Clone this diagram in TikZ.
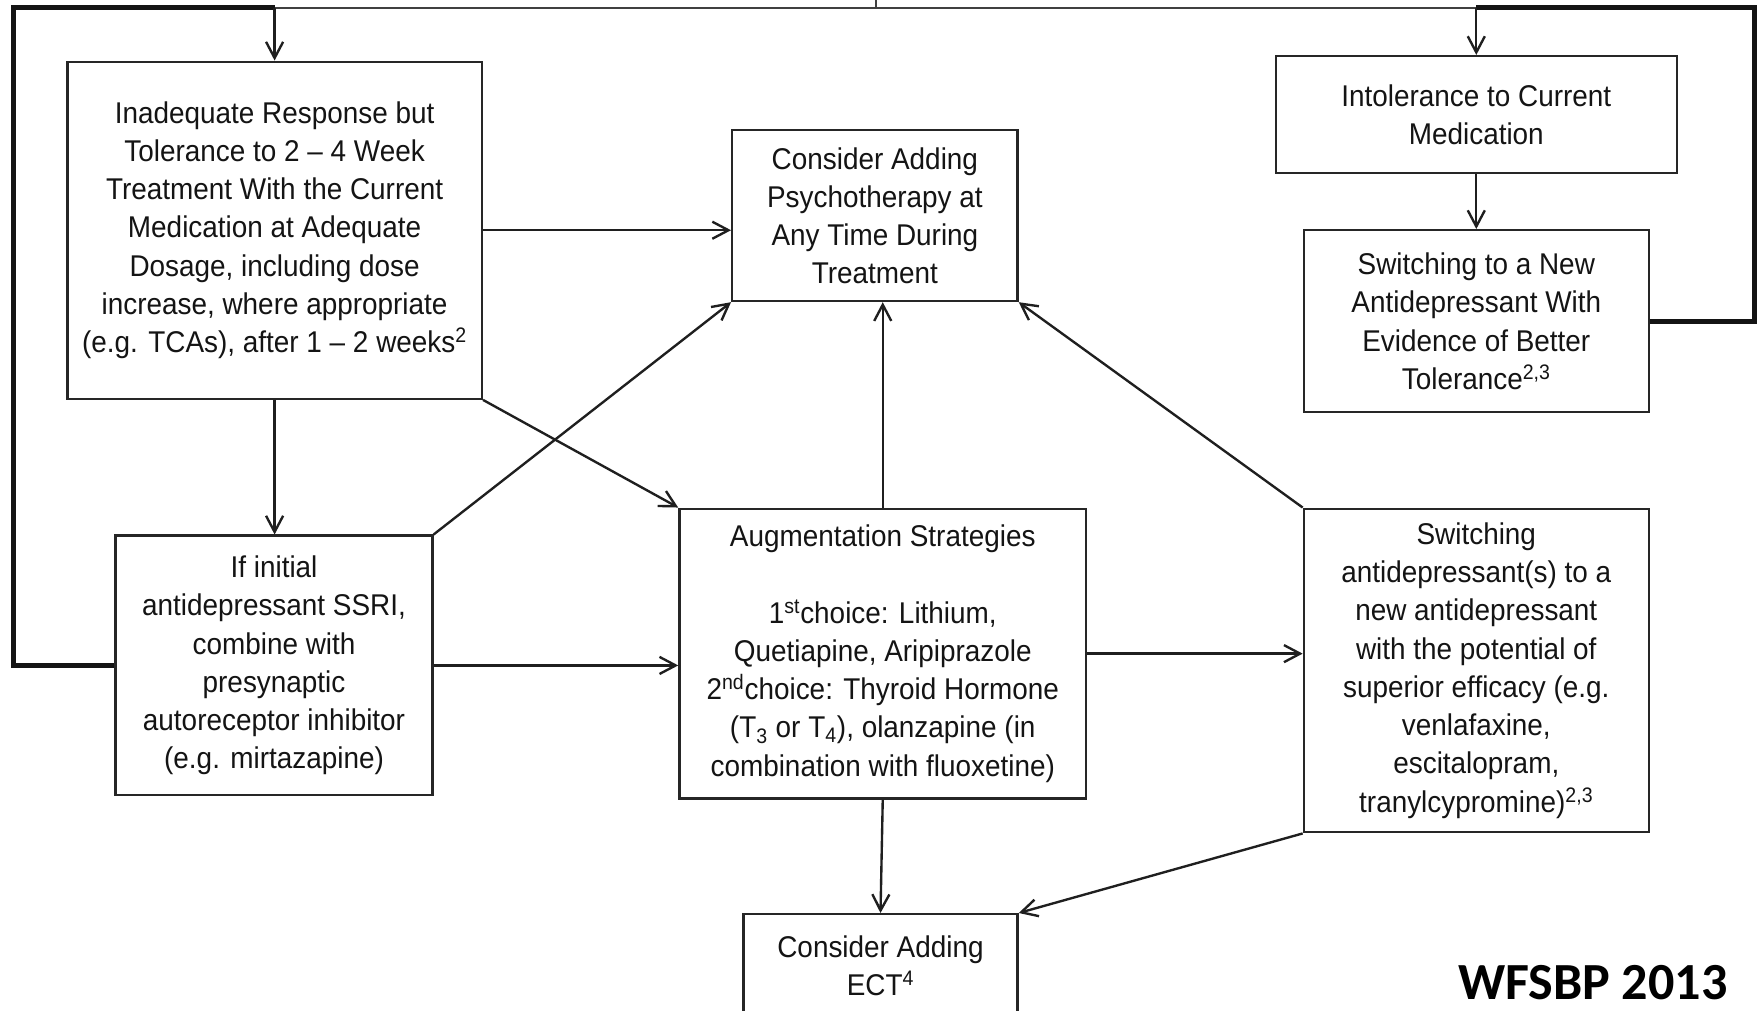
\documentclass[tikz,border=0pt]{standalone}
\usepackage{fontspec}
\setmainfont[FakeStretch=0.93]{Liberation Sans}
\newfontfamily\wffont{Carlito}
\usetikzlibrary{arrows.meta}
\begin{document}
\begin{tikzpicture}[x=0.025cm, y=-0.025cm,
  box/.style={draw=black!85, line width=1.5pt, align=center, inner sep=0pt,
    text=black!92, font=\fontsize{19pt}{24.2pt}\selectfont},
  arr/.style={draw=black!88, line width=1.5pt,
    -{Straight Barb[length=0.36cm,width=0.38cm]}},
  heavy/.style={draw=black!92, line width=3pt, line join=miter},
  thinline/.style={draw=black!75, line width=1.5pt}]
\useasboundingbox (0,0) rectangle (1568,900);
\clip (0,0) rectangle (1568,900);
\fill[white] (0,0) rectangle (1568,900);

\node[box, minimum width=9.225cm, minimum height=7.5cm] (A) at (244.5,205)
  {Inadequate Response but\\Tolerance to 2 – 4 Week\\Treatment With the Current\\Medication at Adequate\\Dosage, including dose\\increase, where appropriate\\(e.g. TCAs), after 1 – 2 weeks\textsuperscript{2}};
\node[box, minimum width=6.35cm, minimum height=3.8cm] (B) at (779,192)
  {Consider Adding\\Psychotherapy at\\Any Time During\\Treatment};
\node[box, minimum width=8.925cm, minimum height=2.6cm] (C) at (1314.5,102)
  {Intolerance to Current\\Medication};
\node[box, minimum width=7.675cm, minimum height=4.05cm] (D) at (1314.5,286)
  {Switching to a New\\Antidepressant With\\Evidence of Better\\Tolerance\textsuperscript{2,3}};
\node[box, minimum width=7.05cm, minimum height=5.775cm] (E) at (244,592.5)
  {If initial\\antidepressant SSRI,\\combine with\\presynaptic\\autoreceptor inhibitor\\(e.g. mirtazapine)};
\node[box, minimum width=9.05cm, minimum height=6.45cm] (F) at (786,582)
  {Augmentation Strategies\\[24.2pt]1\textsuperscript{st}choice: Lithium,\\Quetiapine, Aripiprazole\\2\textsuperscript{nd}choice: Thyroid Hormone\\(T\textsubscript{3} or T\textsubscript{4}), olanzapine (in\\combination with fluoxetine)};
\node[box, minimum width=7.675cm, minimum height=7.2cm] (G) at (1314.5,597)
  {Switching\\antidepressant(s) to a\\new antidepressant\\with the potential of\\superior efficacy (e.g.\\venlafaxine,\\escitalopram,\\tranylcypromine)\textsuperscript{2,3}};
\node[box, minimum width=6.1cm, minimum height=2.3cm] (H) at (784,860)
  {Consider Adding\\ECT\textsuperscript{4}};
\node[anchor=base west, inner sep=0pt, text=black,
  font=\wffont\bfseries\fontsize{33pt}{36pt}\selectfont] (W) at (1298,890) {WFSBP 2013};

% outer loops
\coordinate (tl) at (12,7);
\coordinate (tr) at (1562,7);
\coordinate (src) at (780,-2);
\coordinate (srcj) at (780,7);
\draw[thinline] (tl -| A.north) -- (tr -| C.north);
\draw[thinline] (src) -- (srcj);
\draw[heavy] (E.west) -| (tl) -- (tl -| A.north);
\draw[heavy] (D.east) -| (tr) -- (tr -| C.north);
\draw[arr] (tl -| A.north) -- (A.north);
\draw[arr] (tr -| C.north) -- (C.north);

% connectors
\draw[arr] (A.east) -- (A.east -| B.west);
\draw[arr] (A.south) -- (A.south |- E.north);
\draw[arr] (A.south east) -- (F.north west);
\draw[arr] (E.north east) -- (B.south west);
\draw[arr] (E.east) -- (E.east -| F.west);
\draw[arr] (F.north) -- (F.north |- B.south);
\draw[arr] (G.north west) -- (B.south east);
\draw[arr] (F.east) -- (F.east -| G.west);
\draw[arr] (F.south) -- (H.north);
\draw[arr] (G.south west) -- (H.north east);
\draw[arr] (C.south) -- (D.north);
\end{tikzpicture}
\end{document}
